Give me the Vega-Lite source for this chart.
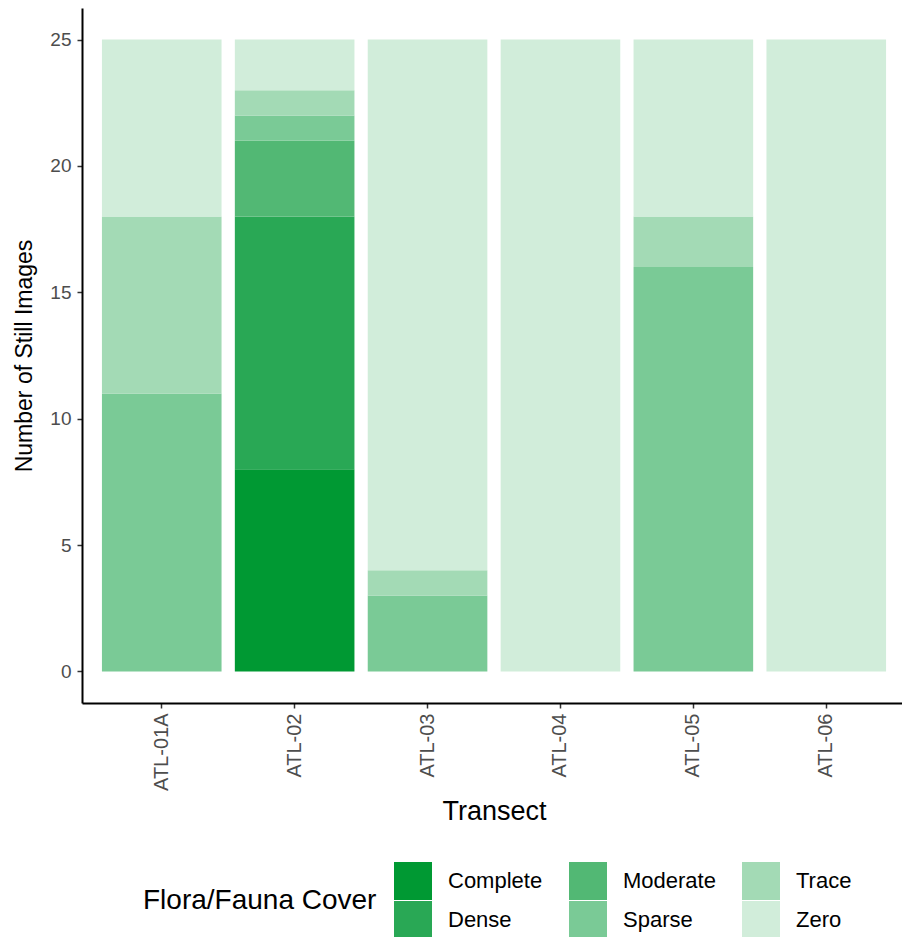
{
  "$schema": "https://vega.github.io/schema/vega-lite/v6.json",
  "width": 824,
  "height": 695,
  "autosize": {"type": "none"},
  "padding": {"left": 82, "top": 8, "right": 0, "bottom": 234},
  "background": "white",
  "config": {
    "view": {"stroke": null},
    "font": "Liberation Sans",
    "axis": {
      "grid": false,
      "domainColor": "black",
      "domainWidth": 2,
      "tickColor": "#333333",
      "tickWidth": 1.5,
      "tickSize": 5,
      "labelColor": "#4D4D4D",
      "labelFont": "Liberation Sans",
      "titleFont": "Liberation Sans",
      "titleColor": "black",
      "titleFontWeight": "normal"
    }
  },
  "data": {
    "values": [
      {"transect": "ATL-01A", "cover": "Sparse", "count": 11},
      {"transect": "ATL-01A", "cover": "Trace", "count": 7},
      {"transect": "ATL-01A", "cover": "Zero", "count": 7},
      {"transect": "ATL-02", "cover": "Complete", "count": 8},
      {"transect": "ATL-02", "cover": "Dense", "count": 10},
      {"transect": "ATL-02", "cover": "Moderate", "count": 3},
      {"transect": "ATL-02", "cover": "Sparse", "count": 1},
      {"transect": "ATL-02", "cover": "Trace", "count": 1},
      {"transect": "ATL-02", "cover": "Zero", "count": 2},
      {"transect": "ATL-03", "cover": "Sparse", "count": 3},
      {"transect": "ATL-03", "cover": "Trace", "count": 1},
      {"transect": "ATL-03", "cover": "Zero", "count": 21},
      {"transect": "ATL-04", "cover": "Zero", "count": 25},
      {"transect": "ATL-05", "cover": "Sparse", "count": 16},
      {"transect": "ATL-05", "cover": "Trace", "count": 2},
      {"transect": "ATL-05", "cover": "Zero", "count": 7},
      {"transect": "ATL-06", "cover": "Zero", "count": 25}
    ]
  },
  "mark": {"type": "bar"},
  "encoding": {
    "x": {
      "field": "transect",
      "type": "nominal",
      "scale": {"paddingInner": 0.1, "paddingOuter": 0.15},
      "axis": {
        "title": "Transect",
        "labelAngle": 270,
        "labelFontSize": 20,
        "labelPadding": 5,
        "titleFontSize": 27,
        "titlePadding": 8
      }
    },
    "y": {
      "field": "count",
      "type": "quantitative",
      "stack": "zero",
      "scale": {"domain": [-1.25, 26.25], "nice": false, "zero": false},
      "axis": {
        "title": "Number of Still Images",
        "values": [0, 5, 10, 15, 20, 25],
        "labelFontSize": 19,
        "labelPadding": 6,
        "titleFontSize": 23,
        "titlePadding": 13
      }
    },
    "color": {
      "field": "cover",
      "type": "nominal",
      "scale": {
        "domain": ["Complete", "Moderate", "Trace", "Dense", "Sparse", "Zero"],
        "range": ["#009933", "#52B874", "#A3DAB5", "#29A855", "#7ACA96", "#D1EDDA"]
      },
      "legend": {
        "title": "Flora/Fauna Cover",
        "orient": "none",
        "legendX": 61,
        "legendY": 854,
        "direction": "horizontal",
        "columns": 3,
        "titleOrient": "left",
        "titleAnchor": "middle",
        "titleBaseline": "middle",
        "titleFontSize": 28,
        "titleFontWeight": "normal",
        "titleColor": "black",
        "titleLimit": 0,
        "titlePadding": 17,
        "symbolType": "square",
        "symbolSize": 1444,
        "symbolStrokeWidth": 0,
        "symbolOpacity": 1,
        "labelFontSize": 22,
        "labelColor": "black",
        "labelLimit": 0,
        "labelOffset": 16,
        "rowPadding": 1,
        "columnPadding": 26
      }
    },
    "order": {"field": "cover", "sort": "ascending"}
  }
}
